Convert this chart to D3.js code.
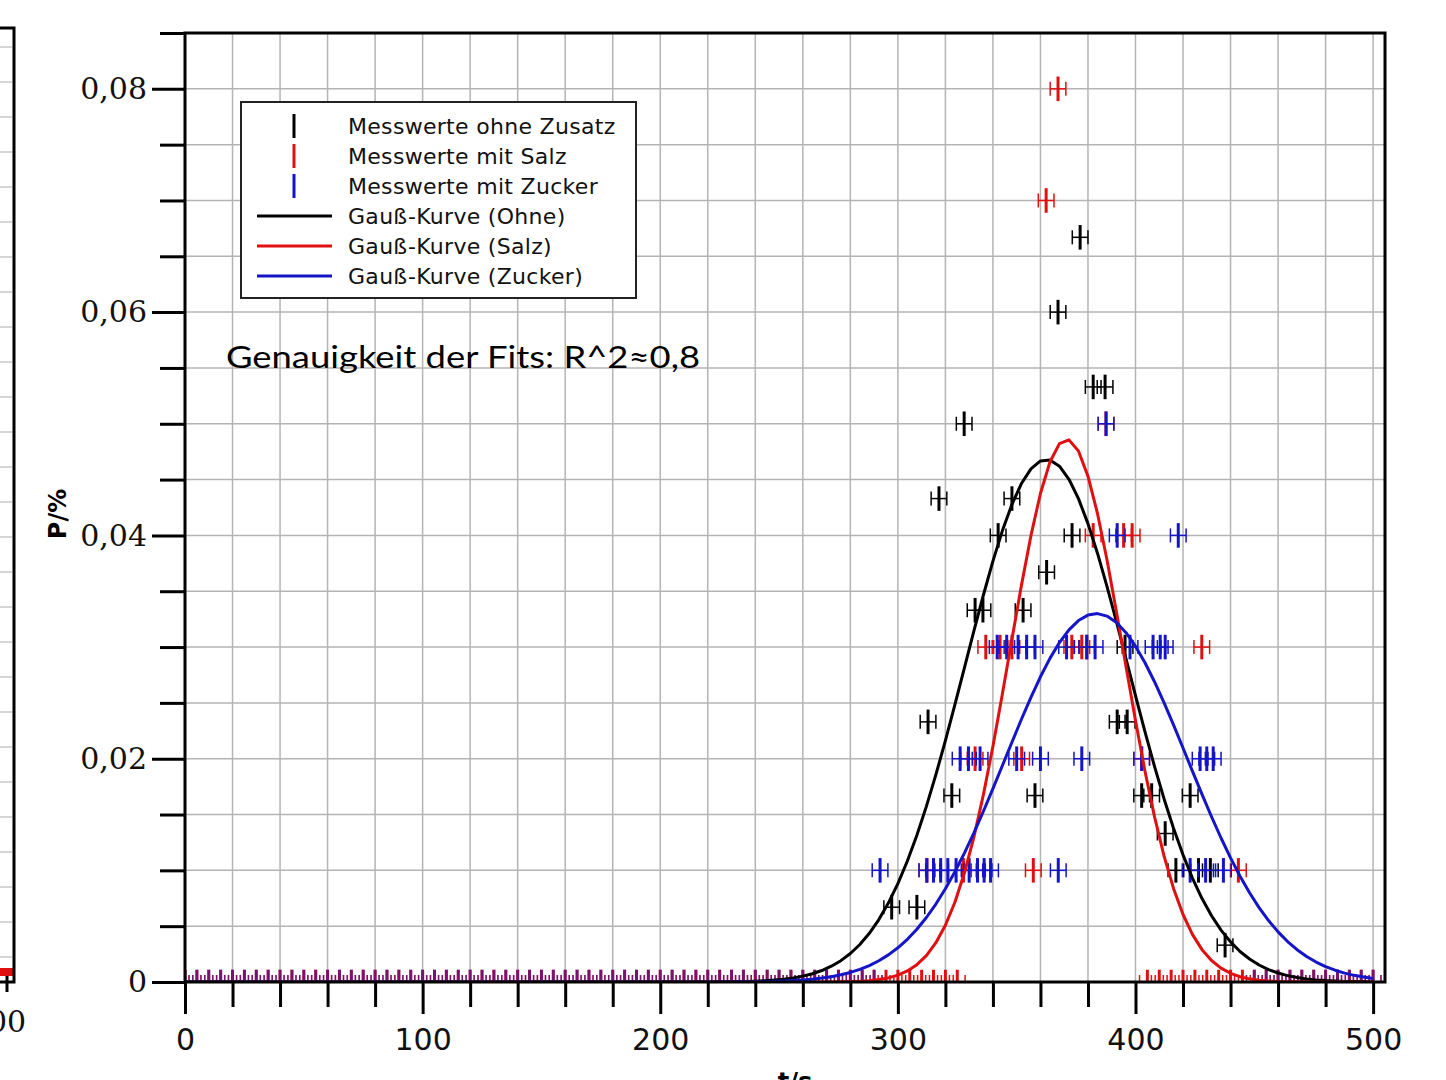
<!DOCTYPE html>
<html>
<head>
<meta charset="utf-8">
<title>Gauss</title>
<script src="https://cdn.jsdelivr.net/npm/d3@7"></script>
<style>
  body { margin: 0; background: #fff; }
  svg { display: block; }
  .grid line { stroke: #b4b4b4; stroke-width: 1.5px; }
  .axis path { display: none; }
  .axis line { stroke: #000; stroke-width: 3px; }
  .axis--x text { font: 30px "DejaVu Sans", sans-serif; fill: #111; }
  .axis--y text { font: 30px "DejaVu Serif", serif; fill: #111; }
  .legend text { font: 22px "DejaVu Sans", sans-serif; fill: #111; letter-spacing: 0.3px; }
  .label { font: bold 24px "DejaVu Sans", sans-serif; fill: #000; }
</style>
</head>
<body>
<script>
// measured values: [t in s, P]
var ohne = [
  [376.7, 0.0667], [367.4, 0.06], [382.2, 0.0533], [387.2, 0.0533],
  [327.9, 0.05], [317.3, 0.0433], [348.0, 0.0433], [342.2, 0.04],
  [373.3, 0.04], [362.6, 0.0367], [332.5, 0.0333], [335.8, 0.0333],
  [352.7, 0.0333], [395.6, 0.03], [312.7, 0.0233], [392.3, 0.0233],
  [396.5, 0.0233], [322.7, 0.0167], [357.7, 0.0167], [402.6, 0.0167],
  [406.8, 0.0167], [423.0, 0.0167], [412.5, 0.0133], [417.0, 0.01],
  [426.5, 0.01], [431.5, 0.01], [297.4, 0.0067], [308.0, 0.0067],
  [437.7, 0.0033]
];
var salz = [
  [367.4, 0.08], [362.4, 0.07], [387.6, 0.05], [382.2, 0.04],
  [395.0, 0.04], [398.6, 0.04], [337.0, 0.03], [343.0, 0.03],
  [348.0, 0.03], [373.2, 0.03], [377.4, 0.03], [379.5, 0.03],
  [427.9, 0.03], [332.5, 0.02], [352.1, 0.02], [402.6, 0.02],
  [312.2, 0.01], [327.6, 0.01], [357.0, 0.01], [443.3, 0.01]
];
var zucker = [
  [387.6, 0.05], [392.3, 0.04], [418.0, 0.04], [341.8, 0.03],
  [345.8, 0.03], [350.6, 0.03], [354.2, 0.03], [357.7, 0.03],
  [371.0, 0.03], [379.5, 0.03], [383.0, 0.03], [397.7, 0.03],
  [407.4, 0.03], [410.4, 0.03], [412.5, 0.03], [326.2, 0.02],
  [329.7, 0.02], [334.6, 0.02], [350.0, 0.02], [360.0, 0.02],
  [377.4, 0.02], [402.6, 0.02], [427.2, 0.02], [430.0, 0.02],
  [432.7, 0.02], [292.5, 0.01], [312.2, 0.01], [315.0, 0.01],
  [318.0, 0.01], [321.0, 0.01], [324.5, 0.01], [330.0, 0.01],
  [333.5, 0.01], [336.3, 0.01], [339.0, 0.01], [367.5, 0.01],
  [423.0, 0.01], [429.5, 0.01], [437.0, 0.01]
];
// time ranges where the measured value is zero
var salzZero = [[0, 325], [405, 500]];
var zuckerZero = [[0, 290], [450, 500]];
var zeroStep = 5;

// Gauss fit parameters
var fitOhne = { amp: 0.0468, mu: 362.5, sigma: 34.2 };
var fitSalz = { amp: 0.0486, mu: 371, sigma: 24 };
var fitZucker = { amp: 0.033, mu: 383.5, sigma: 38.3 };

var errT = 3.3, errP = 0.0011;

var xTicks = d3.range(0, 501, 20);
var yTicks = d3.range(0, 18).map(function(i) { return i * 0.005; });

var colors = { ohne: "#000", salz: "#e01010", zucker: "#1414c8" };

var width = 1446, height = 1080;
var x = d3.scaleLinear().domain([0, 505]).range([185, 1385]);
var y = d3.scaleLinear().domain([0, 0.085]).range([982, 33]);

var svg = d3.select("body").append("svg")
  .attr("width", width)
  .attr("height", height);

svg.append("clipPath").attr("id", "plot-clip")
  .append("rect")
  .attr("x", x(0)).attr("y", y(0.085))
  .attr("width", x(505) - x(0)).attr("height", y(0) - y(0.085));

// fragment of the neighbouring chart on the left edge
var frag = svg.append("g");
frag.append("clipPath").attr("id", "frag-clip")
  .append("rect").attr("x", 0).attr("y", 0).attr("width", 27).attr("height", 1080);
frag.selectAll(".fg").data(d3.range(47, 965, 35)).enter().append("line")
  .attr("x1", 0).attr("x2", 12).attr("y1", function(d) { return d; }).attr("y2", function(d) { return d; })
  .style("stroke", "#c8c8c8").style("stroke-width", 1.5);
frag.append("rect").attr("x", 0).attr("y", 968).attr("width", 13).attr("height", 8).style("fill", "#e01010");
frag.append("path").attr("d", "M0,28H14V982H0").style("fill", "none").style("stroke", "#000").style("stroke-width", 3);
frag.append("line").attr("x1", 7).attr("x2", 7).attr("y1", 976).attr("y2", 992).style("stroke", "#000").style("stroke-width", 3);
frag.append("text").attr("x", -12).attr("y", 1032).attr("clip-path", "url(#frag-clip)")
  .style("font", "30px 'DejaVu Serif', serif").style("fill", "#111").text("00");

// grid
var grid = svg.append("g").attr("class", "grid");
grid.selectAll(".gx").data(xTicks.slice(1)).enter().append("line")
  .attr("x1", x).attr("x2", x).attr("y1", y(0)).attr("y2", y(0.085));
grid.selectAll(".gy").data(yTicks.slice(1)).enter().append("line")
  .attr("x1", x(0)).attr("x2", x(505)).attr("y1", y).attr("y2", y);

// axes
var fmt = d3.format(".2f");
var gx = svg.append("g")
  .attr("class", "axis axis--x")
  .attr("transform", "translate(0," + y(0) + ")")
  .call(d3.axisBottom(x).tickValues(xTicks).tickSize(25).tickPadding(22)
    .tickFormat(function(d) { return d % 100 === 0 ? d : ""; }));
gx.selectAll(".tick line").filter(function(d) { return d % 100 === 0; }).attr("y2", 32);

var gy = svg.append("g")
  .attr("class", "axis axis--y")
  .attr("transform", "translate(" + x(0) + ",0)")
  .call(d3.axisLeft(y).tickValues(yTicks).tickSize(25).tickPadding(13)
    .tickFormat(function(d, i) { return i % 4 === 0 ? (i === 0 ? "0" : fmt(d).replace(".", ",")) : ""; }));
gy.selectAll(".tick line").filter(function(d, i) { return i % 4 === 0; }).attr("x2", -33);

// markers with error bars
function drawMarkers(data, color, opacity) {
  var g = svg.append("g")
    .attr("clip-path", "url(#plot-clip)")
    .style("stroke", color)
    .style("opacity", opacity);
  var m = g.selectAll(".m").data(data).enter().append("g");
  m.append("line")
    .attr("x1", function(d) { return x(d[0]); }).attr("x2", function(d) { return x(d[0]); })
    .attr("y1", function(d) { return y(d[1] - errP); }).attr("y2", function(d) { return y(d[1] + errP); })
    .style("stroke-width", 3);
  m.append("line")
    .attr("x1", function(d) { return x(d[0] - errT); }).attr("x2", function(d) { return x(d[0] + errT); })
    .attr("y1", function(d) { return y(d[1]); }).attr("y2", function(d) { return y(d[1]); })
    .style("stroke-width", 1.5);
  [-errT, errT].forEach(function(o) {
    m.append("line")
      .attr("x1", function(d) { return x(d[0] + o); }).attr("x2", function(d) { return x(d[0] + o); })
      .attr("y1", function(d) { return y(d[1]) - 7; }).attr("y2", function(d) { return y(d[1]) + 7; })
      .style("stroke-width", 1.5);
  });
}

function zeros(ranges) {
  var out = [];
  ranges.forEach(function(r) {
    d3.range(r[0], r[1] + 0.1, zeroStep).forEach(function(t) { out.push([t, 0]); });
  });
  return out;
}

drawMarkers(zeros(salzZero), colors.salz, 1);
drawMarkers(zeros(zuckerZero), colors.zucker, 0.5);
drawMarkers(ohne, colors.ohne, 1);
drawMarkers(salz, colors.salz, 1);
drawMarkers(zucker, colors.zucker, 1);

// Gauss curves
var samples = d3.range(0, 501, 4);
var line = d3.line()
  .x(function(d) { return x(d[0]); })
  .y(function(d) { return y(d[1]); });
function gauss(f) {
  return samples.map(function(t) {
    return [t, f.amp * Math.exp(-(t - f.mu) * (t - f.mu) / (2 * f.sigma * f.sigma))];
  });
}
[[fitOhne, colors.ohne], [fitSalz, colors.salz], [fitZucker, colors.zucker]].forEach(function(c) {
  svg.append("path")
    .attr("clip-path", "url(#plot-clip)")
    .attr("d", line(gauss(c[0])))
    .style("fill", "none")
    .style("stroke", c[1])
    .style("stroke-width", 3)
    .style("stroke-linejoin", "round");
});

// frame
svg.append("rect")
  .attr("x", x(0)).attr("y", y(0.085))
  .attr("width", x(505) - x(0)).attr("height", y(0) - y(0.085))
  .style("fill", "none").style("stroke", "#000").style("stroke-width", 3);

// legend
var legendItems = [
  { name: "Messwerte ohne Zusatz", color: colors.ohne, type: "bar" },
  { name: "Messwerte mit Salz", color: colors.salz, type: "bar" },
  { name: "Messwerte mit Zucker", color: colors.zucker, type: "bar" },
  { name: "Gauß-Kurve (Ohne)", color: colors.ohne, type: "line" },
  { name: "Gauß-Kurve (Salz)", color: colors.salz, type: "line" },
  { name: "Gauß-Kurve (Zucker)", color: colors.zucker, type: "line" }
];
var legend = svg.append("g").attr("class", "legend").attr("transform", "translate(241,102)");
legend.append("rect").attr("width", 395).attr("height", 196)
  .style("fill", "#fff").style("stroke", "#222").style("stroke-width", 2);
var li = legend.selectAll(".li").data(legendItems).enter().append("g")
  .attr("transform", function(d, i) { return "translate(0," + (24 + i * 30) + ")"; });
li.filter(function(d) { return d.type === "bar"; }).append("line")
  .attr("x1", 53).attr("x2", 53).attr("y1", -12).attr("y2", 12)
  .style("stroke", function(d) { return d.color; }).style("stroke-width", 3);
li.filter(function(d) { return d.type === "line"; }).append("line")
  .attr("x1", 16).attr("x2", 91).attr("y1", 0).attr("y2", 0)
  .style("stroke", function(d) { return d.color; }).style("stroke-width", 3);
li.append("text").attr("x", 107).attr("y", 8).text(function(d) { return d.name; });

// annotation and axis titles
svg.append("text")
  .attr("x", 226).attr("y", 368)
  .attr("textLength", 474).attr("lengthAdjust", "spacingAndGlyphs")
  .style("font", "31px Lato, sans-serif").style("fill", "#000")
  .text("Genauigkeit der Fits: R^2≈0,8");

svg.append("text").attr("class", "label")
  .attr("transform", "translate(66,514) rotate(-90)")
  .attr("text-anchor", "middle")
  .text("P/%");

svg.append("text").attr("class", "label")
  .attr("x", 795).attr("y", 1090)
  .attr("text-anchor", "middle")
  .text("t/s");
</script>
</body>
</html>
